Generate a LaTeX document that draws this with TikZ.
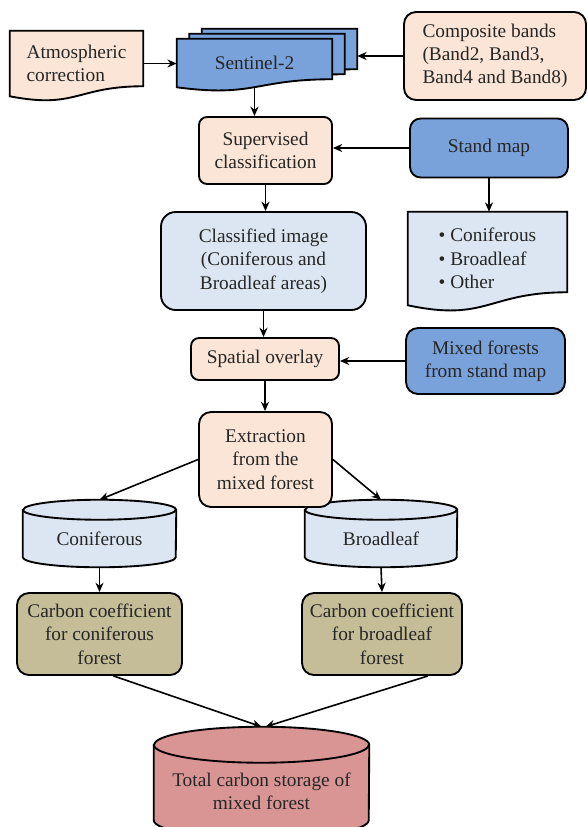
\documentclass[tikz,border=0pt]{standalone}
\usepackage{fontspec}
\setmainfont{Liberation Serif}
\usepackage{tikz}
\usetikzlibrary{arrows.meta,calc,backgrounds}

\definecolor{boxPeach}{RGB}{251,229,214}
\definecolor{boxBlue}{RGB}{122,162,218}
\definecolor{boxPale}{RGB}{220,230,242}
\definecolor{boxKhaki}{RGB}{196,189,151}
\definecolor{boxRose}{RGB}{217,149,148}

% document outline with a wavy bottom, drawn round a node
\newcommand{\docoutline}[3]{%
  \filldraw[fill=#3, line width=1.4pt]
    (#1.north west) -- (#1.north east) -- ([yshift=#2]#1.south east)
    .. controls ([yshift=#2]#1.south) and ([yshift=-1.3*#2]#1.south) .. (#1.south west) -- cycle;}

% drum (cylinder) outline round a node
\newcommand{\drumoutline}[4]{%
  \filldraw[fill=#4, line width=1.4pt]
    ([yshift=#3]#1.north west) -- (#1.south west)
    arc[start angle=180, end angle=360, x radius=#2, y radius=#3]
    -- ([yshift=#3]#1.north east)
    arc[start angle=0, end angle=180, x radius=#2, y radius=#3] -- cycle;
  \draw[line width=1.4pt] ([yshift=#3]#1.north west)
    arc[start angle=180, end angle=360, x radius=#2, y radius=#3];}

\begin{document}
\begin{tikzpicture}[x=0.75pt, y=-0.75pt,
  font=\fontsize{14.5}{17.5}\selectfont,
  box/.style={rectangle, rounded corners=8pt, draw=black, line width=1.4pt,
              text=black!85, align=center, inner sep=2pt},
  docbox/.style={rectangle, text=black!85, inner sep=2pt},
  arr/.style={-{Stealth[length=7pt,width=6pt]}, line width=1.2pt}
]
\useasboundingbox (0,0) rectangle (588,827);

% top row
\node[docbox, align=left, minimum width=99.75pt, minimum height=48.75pt] (atm) at (76.5,63.5)
  {Atmospheric\\correction};
\node[docbox, minimum width=116.25pt, minimum height=36pt] (senc) at (279.5,53) {};
\node[docbox, minimum width=116.25pt, minimum height=36pt] (senb) at (267,58) {};
\node[docbox, minimum width=116.25pt, minimum height=36pt] (sen) at (254.5,63) {Sentinel-2};
\node[box, fill=boxPeach, align=left, rounded corners=9pt, minimum width=136.5pt, minimum height=66pt] (comp) at (495,56)
  {Composite bands\\(Band2, Band3,\\Band4 and Band8)};

% classification
\node[box, fill=boxPeach, rounded corners=6pt, minimum width=99.75pt, minimum height=50.25pt] (sup) at (265.5,150.5)
  {Supervised\\classification};
\node[box, fill=boxBlue, minimum width=118.5pt, minimum height=44.25pt] (stand) at (489,148) {Stand map};
\node[docbox, align=left, minimum width=119.25pt, minimum height=69.75pt] (bull) at (487.5,258.5)
  {\textbullet\ Coniferous\\\textbullet\ Broadleaf\\\textbullet\ Other};
\node[box, fill=boxPale, rounded corners=11pt, minimum width=153.75pt, minimum height=73.5pt] (cls) at (263.5,261)
  {Classified image\\(Coniferous and\\Broadleaf areas)};

% overlay and extraction
\node[box, fill=boxPeach, rounded corners=6pt, minimum width=111pt, minimum height=31.5pt] (ovl) at (265,359)
  {Spatial overlay};
\node[box, fill=boxBlue, rounded corners=9pt, minimum width=119.25pt, minimum height=49.5pt] (mix) at (485.5,361)
  {Mixed forests\\from stand map};
\node[box, fill=boxPeach, rounded corners=9pt, minimum width=99.75pt, minimum height=71.25pt] (ext) at (265.5,459.5)
  {Extraction\\from the\\mixed forest};

% forest types
\node[docbox, minimum width=114.75pt, minimum height=27.75pt] (con) at (99.5,538.5) {Coniferous};
\node[docbox, minimum width=114pt, minimum height=27.75pt] (bro) at (381,538.5) {Broadleaf};
\node[box, fill=boxKhaki, rounded corners=9pt, minimum width=123.75pt, minimum height=61.5pt] (ccon) at (99.5,634)
  {Carbon coefficient\\for coniferous\\forest};
\node[box, fill=boxKhaki, rounded corners=9pt, minimum width=120pt, minimum height=61.5pt] (cbro) at (382,634)
  {Carbon coefficient\\for broadleaf\\forest};
\node[docbox, align=center, minimum width=161.25pt, minimum height=42.75pt] (tot) at (261.5,791.5)
  {Total carbon storage of\\mixed forest};

\begin{scope}[on background layer]
  \docoutline{atm}{7.5pt}{boxPeach}
  \docoutline{senc}{6pt}{boxBlue}
  \docoutline{senb}{6pt}{boxBlue}
  \docoutline{sen}{6pt}{boxBlue}
  \docoutline{bull}{9.75pt}{boxPale}
  \drumoutline{con}{57.375pt}{7.5pt}{boxPale}
  \drumoutline{bro}{57pt}{7.5pt}{boxPale}
  \drumoutline{tot}{80.625pt}{13.5pt}{boxRose}
\end{scope}

% connectors
\draw[arr] (atm.east) -- (atm.east -| sen.west);
\draw[arr] (comp.west) -- (comp.west -| senc.east);
\draw[arr] (sen.south) -- (sen.south |- sup.north);
\draw[arr] (stand.west) -- (stand.west -| sup.east);
\draw[arr] (stand.south) -- (stand.south |- bull.north);
\draw[arr] (sup.south) -- (sup.south |- cls.north);
\draw[arr] (cls.south) -- (cls.south |- ovl.north);
\draw[arr] (mix.west) -- (mix.west -| ovl.east);
\draw[arr] (ovl.south) -- (ovl.south |- ext.north);
\draw[arr] (ext.west) -- ([yshift=15pt]con.north);
\draw[arr] (ext.east) -- ([yshift=15pt]bro.north);
\draw[arr] ([yshift=-7.5pt]con.south) -- (ccon.north);
\draw[arr] ([yshift=-7.5pt]bro.south) -- (cbro.north);
\draw[arr] ([xshift=10.5pt]ccon.south) -- ([yshift=27pt]tot.north);
\draw[arr] ([xshift=34.5pt]cbro.south) -- ([xshift=3pt,yshift=27pt]tot.north);
\end{tikzpicture}
\end{document}
